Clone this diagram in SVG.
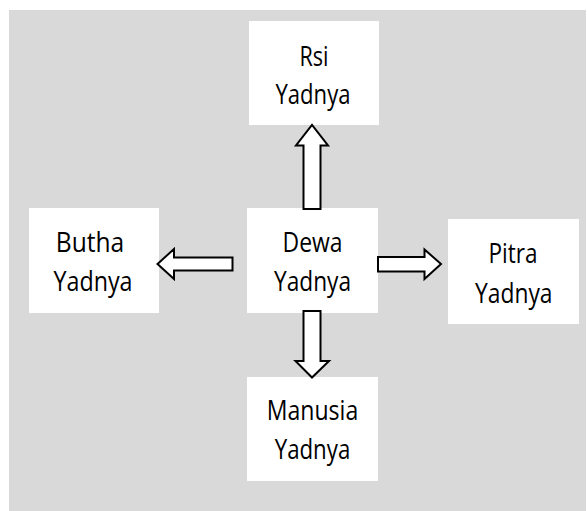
<svg xmlns="http://www.w3.org/2000/svg" width="587" height="511" viewBox="0 0 587 511">
<style>
.bg{fill:#d9d9d9}
.box{fill:#ffffff}
.t{font-family:"Open Sans","Liberation Sans",sans-serif;font-size:27px;fill:#000;text-anchor:middle}
.arr{fill:#ffffff;stroke:#000;stroke-width:2;stroke-linejoin:miter}
</style>
<rect class="bg" x="9" y="10" width="577" height="501"/>
<g id="rsi">
<rect class="box" x="249" y="21" width="130" height="104"/>
<text class="t" x="314" y="65.7" textLength="29" lengthAdjust="spacingAndGlyphs">Rsi</text>
<text class="t" x="313" y="104" textLength="75" lengthAdjust="spacingAndGlyphs">Yadnya</text>
</g>
<g id="dewa">
<rect class="box" x="247" y="208" width="131" height="105"/>
<text class="t" x="312.5" y="251.7" textLength="60" lengthAdjust="spacingAndGlyphs">Dewa</text>
<text class="t" x="312.5" y="290.7" textLength="77" lengthAdjust="spacingAndGlyphs">Yadnya</text>
</g>
<g id="butha">
<rect class="box" x="29" y="208" width="130" height="105"/>
<text class="t" x="90" y="251.7" textLength="68.5" lengthAdjust="spacingAndGlyphs">Butha</text>
<text class="t" x="93" y="290.7" textLength="79" lengthAdjust="spacingAndGlyphs">Yadnya</text>
</g>
<g id="pitra">
<rect class="box" x="448" y="219" width="131" height="105"/>
<text class="t" x="513" y="263.3" textLength="49" lengthAdjust="spacingAndGlyphs">Pitra</text>
<text class="t" x="513.8" y="302.7" textLength="77.5" lengthAdjust="spacingAndGlyphs">Yadnya</text>
</g>
<g id="manusia">
<rect class="box" x="247" y="377" width="131" height="104"/>
<text class="t" x="312.5" y="420" textLength="91.5" lengthAdjust="spacingAndGlyphs">Manusia</text>
<text class="t" x="312.5" y="459" textLength="75.5" lengthAdjust="spacingAndGlyphs">Yadnya</text>
</g>
<g id="connectors">
<polygon class="arr" points="303.5,209 303.5,145.5 296,145.5 312,125 328,145.5 320.5,145.5 320.5,209"/>
<polygon class="arr" points="303.5,311 320.5,311 320.5,361 329,361 312,377.5 295.5,361 303.5,361"/>
<polygon class="arr" points="232.5,257.5 174,257.5 174,249 157.5,264 174,279 174,270.5 232.5,270.5"/>
<polygon class="arr" points="378,257 424.5,257 424.5,249.5 441,264 424.5,279 424.5,271.5 378,271.5"/>
</g>
</svg>
